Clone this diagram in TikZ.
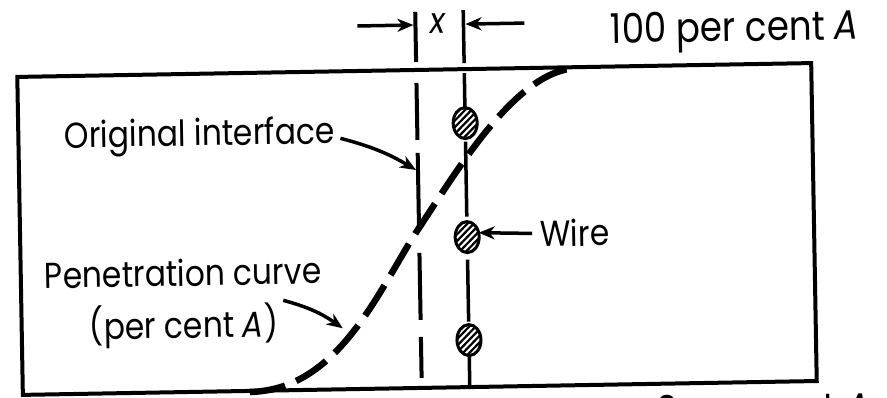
\documentclass[tikz,border=0pt]{standalone}
\usepackage{fontspec}
\setmainfont[FakeStretch=0.87]{Poppins}
\usetikzlibrary{arrows.meta,shapes.geometric,calc}
\tikzset{
  ln/.style={line width=4pt},
  wln/.style={line width=3.5pt},
  arr/.style={line width=3.5pt, -{Stealth[length=16pt,width=13pt,inset=5pt]}},
  lbl/.style={inner sep=0pt, outer sep=0pt, font=\fontsize{36}{40}\selectfont, anchor=base west},
  big/.style={font=\fontsize{41}{44}\selectfont},
  wire/.style={ellipse, draw, line width=3pt, minimum width=24pt, minimum height=31pt, inner sep=0pt, outer sep=0pt, fill=white,
    path picture={\foreach \k in {-4,...,4}{\draw[line width=2.2pt] ($(path picture bounding box.center)+(\k*6.5pt-25pt,-25pt)$) -- ++(50pt,50pt);}}},
  pen/.style={line width=6.5pt, dash pattern=on 36pt off 12pt},
}
\begin{document}
\begin{tikzpicture}[x=1pt,y=-1pt]
\useasboundingbox (0,0) rectangle (887,398);
\clip (0,0) rectangle (887,398);
\begin{scope}[rotate around={1:(416,228)}, transform shape]
  % box
  \node[draw, ln, minimum width=794pt, minimum height=318pt, inner sep=0pt, outer sep=0pt, anchor=north west] (box) at (20,70) {};
  % original interface (dashed)
  \draw[ln] (419,12) -- (419,62);
  \foreach \a/\b in {83/140,153/231,253/320,337/378} \draw[ln] (419,\a) -- (419,\b);
  % wire
  \node[wire] (w1) at (467,124) {};
  \node[wire] (w2) at (467,238) {};
  \node[wire] (w3) at (467,341) {};
  \draw[wln] (467,11) -- (467,64);
  \draw[wln] (467,74) -- (w1.north);
  \draw[wln] ($(w1.south)+(0,3)$) -- ($(w2.north)+(0,-5)$);
  \draw[wln] ($(w2.south)+(0,7)$) -- ($(w3.north)+(0,-3)$);
  \draw[wln] (w3.south) -- (467,387);
  % penetration curve
  \draw[pen] (247,389) .. controls (337,389) and (379,286) .. (419,228) .. controls (459,170) and (520,71) .. (580,71);
  % labels
  \node[lbl, big] (t100) at (614,47) {100 per cent \textit{A}};
  \node[lbl] (toi) at (66,142) {Original interface};
  \node[lbl] (twire) at (540,249) {Wire};
  \node[lbl] (tpen) at (44,282) {Penetration curve};
  \node[lbl] (tpen2) at (88,334) {(per cent \textit{A})};
  \node[lbl, big, anchor=base east] (t0) at (867,430) {0 per cent \textit{A}};
  \node[inner sep=0pt, font=\fontsize{36}{40}\selectfont] (tx) at (442,24) {\textit{x}};
  % arrows
  \coordinate (oiS) at (342,137);
  \coordinate (oiE) at (417,170);
  \draw[arr] (oiS) to[bend left=8] (oiE);
  \draw[arr] ($(twire.west)+(-8,0)$) -- (w2.20);
  \coordinate (peS) at (282,298);
  \coordinate (peE) at (341,327);
  \draw[arr] (peS) to[bend left=10] (peE);
  \coordinate (dl) at (361,25);
  \coordinate (dr) at (528,25);
  \draw[arr] (dl) -- (417,25);
  \draw[arr] (dr) -- (469,25);
\end{scope}
\end{tikzpicture}
\end{document}
